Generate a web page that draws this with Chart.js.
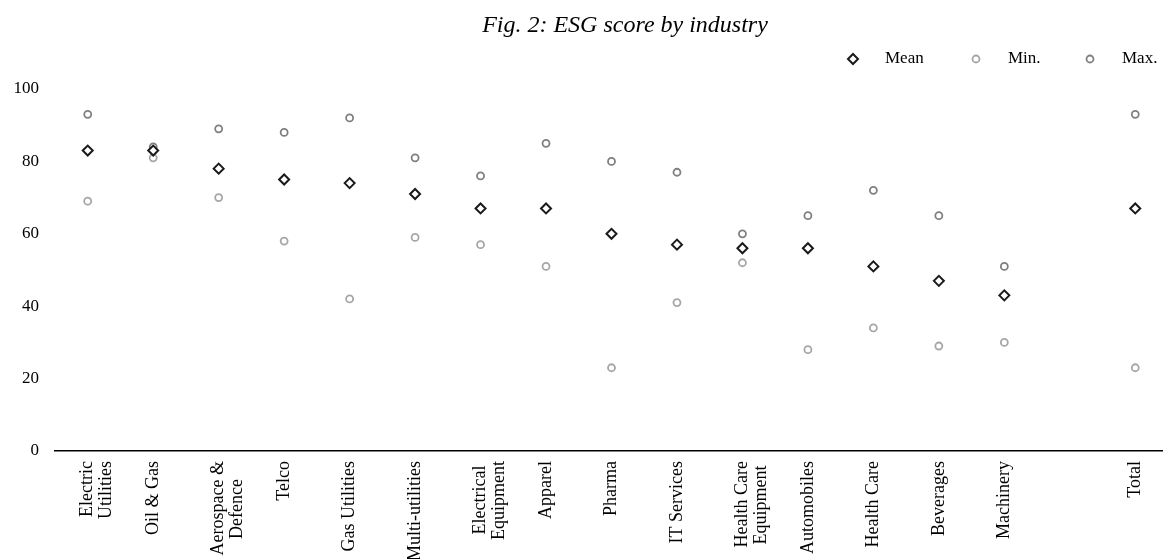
<!DOCTYPE html>
<html>
<head>
<meta charset="utf-8">
<script src="https://cdn.jsdelivr.net/npm/chart.js@4.4.1/dist/chart.umd.min.js"></script>
<style>
  html, body { margin: 0; padding: 0; background: #fff; overflow: hidden; }
  /* a bit wider than the window: the axis in the original runs off the right edge */
  #wrap { width: 1175px; height: 559px; }
</style>
</head>
<body>
<div id="wrap"><canvas id="esgChart"></canvas></div>
<script>
const industries = [
    ['Electric', 'Utilities'], 'Oil & Gas', ['Aerospace &', 'Defence'], 'Telco', 'Gas Utilities',
    'Multi-utilities', ['Electrical', 'Equipment'], 'Apparel', 'Pharma', 'IT Services',
    ['Health Care', 'Equipment'], 'Automobiles', 'Health Care', 'Beverages', 'Machinery', '', 'Total'
];
const meanScores = [83, 83, 78, 75, 74, 71, 67, 67, 60, 57, 56, 56, 51, 47, 43, null, 67];
const minScores  = [69, 81, 70, 58, 42, 59, 57, 51, 23, 41, 52, 28, 34, 29, 30, null, 23];
const maxScores  = [93, 84, 89, 88, 92, 81, 76, 85, 80, 77, 60, 65, 72, 65, 51, null, 93];
const yTicks = [0, 20, 40, 60, 80, 100];

const serif = '"Liberation Serif", "Times New Roman", serif';
const labelFont = '18px ' + serif;

// rotated multi-line labels: pad the shorter line so both lines are centred on each other
const measureCtx = document.createElement('canvas').getContext('2d');
measureCtx.font = labelFont;
function centerLines(label) {
    if (!Array.isArray(label)) return label;
    const widths = label.map(l => measureCtx.measureText(l).width);
    const widest = Math.max(...widths);
    const space = measureCtx.measureText(' ').width;
    return label.map((l, i) => l + ' '.repeat(Math.round((widest - widths[i]) / 2 / space)));
}

// title and legend drawn by hand so they sit where the original has them
const headerPlugin = {
    id: 'header',
    afterDraw(chart) {
        const ctx = chart.ctx;
        ctx.save();
        ctx.fillStyle = '#000';
        ctx.textBaseline = 'middle';
        ctx.textAlign = 'center';
        ctx.font = 'italic 24px ' + serif;
        ctx.fillText('Fig. 2: ESG score by industry', 625, 26);

        ctx.font = '17px ' + serif;
        ctx.textAlign = 'left';
        const items = [
            { x: 853, ds: chart.data.datasets[0] },
            { x: 976, ds: chart.data.datasets[1] },
            { x: 1090, ds: chart.data.datasets[2] }
        ];
        items.forEach(item => {
            const ds = item.ds;
            ctx.strokeStyle = ds.pointBorderColor;
            ctx.fillStyle = '#fff';
            ctx.lineWidth = ds.pointBorderWidth;
            Chart.helpers.drawPoint(ctx, {
                pointStyle: ds.pointStyle,
                radius: ds.pointRadius,
                rotation: 0,
                borderWidth: ds.pointBorderWidth
            }, item.x, 59);
            ctx.fillStyle = '#000';
            ctx.fillText(ds.label, item.x + 32, 59);
        });
        ctx.restore();
    }
};

const ctx = document.getElementById('esgChart').getContext('2d');
new Chart(ctx, {
    type: 'line',
    data: {
        labels: industries.map(centerLines),
        datasets: [
            {
                label: 'Mean',
                data: meanScores,
                showLine: false,
                pointStyle: 'rectRot',
                pointRadius: 5,
                pointBorderWidth: 2,
                pointBorderColor: '#1a1a1a',
                pointBackgroundColor: '#fff'
            },
            {
                label: 'Min.',
                data: minScores,
                showLine: false,
                pointStyle: 'circle',
                pointRadius: 3.5,
                pointBorderWidth: 1.8,
                pointBorderColor: '#a6a6a6',
                pointBackgroundColor: '#fff'
            },
            {
                label: 'Max.',
                data: maxScores,
                showLine: false,
                pointStyle: 'circle',
                pointRadius: 3.5,
                pointBorderWidth: 1.8,
                pointBorderColor: '#7f7f7f',
                pointBackgroundColor: '#fff'
            }
        ]
    },
    options: {
        responsive: true,
        maintainAspectRatio: false,
        animation: false,
        events: [],
        layout: { padding: { top: 89, right: 0, left: 0, bottom: 0 } },
        plugins: {
            legend: { display: false },
            title: { display: false },
            tooltip: { enabled: false }
        },
        scales: {
            x: {
                type: 'category',
                offset: true,
                grid: { display: false, drawTicks: false },
                border: { display: true, color: '#000', width: 1.5 },
                ticks: {
                    autoSkip: false,
                    minRotation: 90,
                    maxRotation: 90,
                    padding: 10,
                    color: '#000',
                    font: { family: serif, size: 18, lineHeight: 1.05 }
                },
                afterFit(scale) {
                    scale.height = 108;
                    scale.paddingLeft = 0;
                    scale.paddingRight = 0;
                }
            },
            y: {
                min: 0,
                max: 100,
                afterBuildTicks(scale) {
                    scale.ticks = yTicks.map(v => ({ value: v }));
                },
                grid: { display: false, drawTicks: false },
                border: { display: false },
                ticks: {
                    padding: 16,
                    color: '#000',
                    font: { family: serif, size: 17 }
                },
                afterFit(scale) {
                    scale.width = 55;
                }
            }
        }
    },
    plugins: [headerPlugin]
});
</script>
</body>
</html>
